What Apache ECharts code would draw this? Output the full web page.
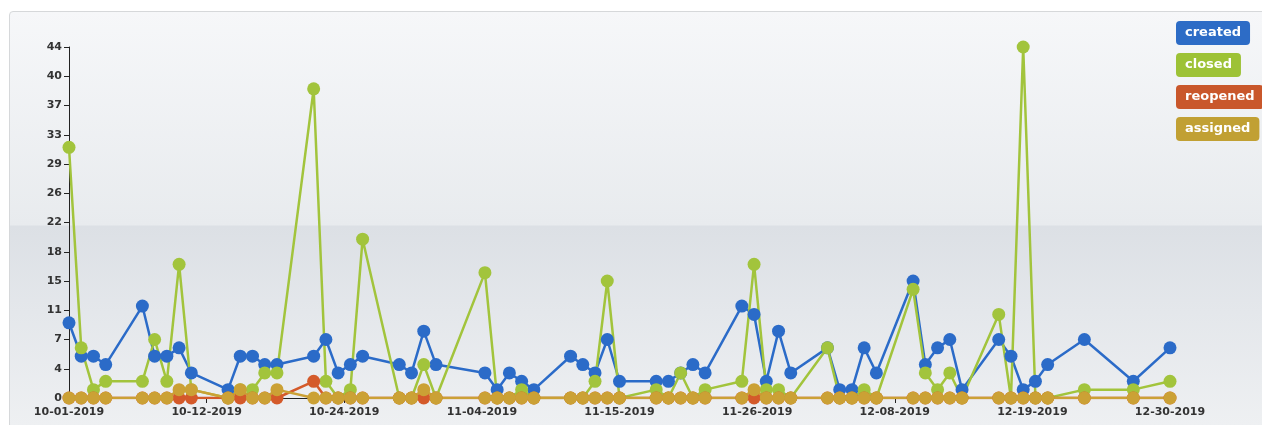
<!DOCTYPE html>
<html lang="en">
<head>
    <meta charset="UTF-8">
    <title>issues per day</title>
    <script src="https://cdn.jsdelivr.net/npm/echarts@6/dist/echarts.min.js"></script>
    <style>
        html, body { margin: 0; padding: 0; background: #fff; }
        #wrap { position: relative; width: 1262px; height: 425px; overflow: hidden; }
        /* grey glossy panel behind the chart */
        #panel {
            position: absolute; left: 9px; top: 11px; width: 1270px; height: 430px;
            border: 1px solid #d6d8da; border-radius: 4px;
            background: linear-gradient(to bottom, #f6f7f9 0px, #e8ebee 213px, #dce0e5 214px, #e4e7eb 300px, #eef0f2 414px);
        }
        #main { position: absolute; left: 0; top: 0; width: 1262px; height: 425px; }
    </style>
</head>
<body>
<div id="wrap">
    <div id="panel"></div>
    <div id="main"></div>
</div>

<script type="text/javascript">

    // working days shown in the chart
    var dates = [
        '10-01-2019','10-02-2019','10-03-2019','10-04-2019',
        '10-07-2019','10-08-2019','10-09-2019','10-10-2019','10-11-2019',
        '10-14-2019','10-15-2019','10-16-2019','10-17-2019','10-18-2019',
        '10-21-2019','10-22-2019','10-23-2019','10-24-2019','10-25-2019',
        '10-28-2019','10-29-2019','10-30-2019','10-31-2019',
        '11-04-2019','11-05-2019','11-06-2019','11-07-2019','11-08-2019',
        '11-11-2019','11-12-2019','11-13-2019','11-14-2019','11-15-2019',
        '11-18-2019','11-19-2019','11-20-2019','11-21-2019','11-22-2019',
        '11-25-2019','11-26-2019','11-27-2019','11-28-2019','11-29-2019',
        '12-02-2019','12-03-2019','12-04-2019','12-05-2019','12-06-2019',
        '12-09-2019','12-10-2019','12-11-2019','12-12-2019','12-13-2019',
        '12-16-2019','12-17-2019','12-18-2019','12-19-2019','12-20-2019',
        '12-23-2019','12-27-2019','12-30-2019'
    ];

    var createdCounts = [
        9, 5, 5, 4,
        11, 5, 5, 6, 3,
        1, 5, 5, 4, 4,
        5, 7, 3, 4, 5,
        4, 3, 8, 4,
        3, 1, 3, 2, 1,
        5, 4, 3, 7, 2,
        2, 2, 3, 4, 3,
        11, 10, 2, 8, 3,
        6, 1, 1, 6, 3,
        14, 4, 6, 7, 1,
        7, 5, 1, 2, 4,
        7, 2, 6
    ];

    var closedCounts = [
        30, 6, 1, 2,
        2, 7, 2, 16, 1,
        0, 1, 1, 3, 3,
        37, 2, 0, 1, 19,
        0, 0, 4, 0,
        15, 0, 0, 1, 0,
        0, 0, 2, 14, 0,
        1, 0, 3, 0, 1,
        2, 16, 1, 1, 0,
        6, 0, 0, 1, 0,
        13, 3, 1, 3, 0,
        10, 0, 42, 0, 0,
        1, 1, 2
    ];

    var reopenedCounts = [
        0, 0, 0, 0,
        0, 0, 0, 0, 0,
        0, 0, 0, 0, 0,
        2, 0, 0, 0, 0,
        0, 0, 0, 0,
        0, 0, 0, 0, 0,
        0, 0, 0, 0, 0,
        0, 0, 0, 0, 0,
        0, 0, 0, 0, 0,
        0, 0, 0, 0, 0,
        0, 0, 0, 0, 0,
        0, 0, 0, 0, 0,
        0, 0, 0
    ];

    var assignedCounts = [
        0, 0, 0, 0,
        0, 0, 0, 1, 1,
        0, 1, 0, 0, 1,
        0, 0, 0, 0, 0,
        0, 0, 1, 0,
        0, 0, 0, 0, 0,
        0, 0, 0, 0, 0,
        0, 0, 0, 0, 0,
        0, 1, 0, 0, 0,
        0, 0, 0, 0, 0,
        0, 0, 0, 0, 0,
        0, 0, 0, 0, 0,
        0, 0, 0
    ];

    var xTickLabels = ['10-01-2019','10-12-2019','10-24-2019','11-04-2019','11-15-2019','11-26-2019','12-08-2019','12-19-2019','12-30-2019'];
    var yTickLabels = ['0','4','7','11','15','18','22','26','29','33','37','40','44'];

    var seriesNames = ['created', 'closed', 'reopened', 'assigned'];
    var lineColors = ['#2b6bc8', '#a2c43c', '#d45a2a', '#cba135'];
    var badgeColors = ['#2d6cc6', '#9dc236', '#c9572b', '#c1a033'];

    // day offset from the first date
    function dayIndex(s) {
        var p = s.split('-');
        return (Date.UTC(+p[2], +p[0] - 1, +p[1]) - Date.UTC(2019, 9, 1)) / 86400000;
    }

    function pairs(values) {
        return values.map(function (v, i) { return [dayIndex(dates[i]), v]; });
    }

    var lastDay = dayIndex(dates[dates.length - 1]);
    var xStep = lastDay / (xTickLabels.length - 1);
    var yMax = 42;
    var yStep = yMax / (yTickLabels.length - 1);

    var myChart = echarts.init(document.getElementById('main'));

    var allValues = [createdCounts, closedCounts, reopenedCounts, assignedCounts];
    var series = seriesNames.map(function (name, i) {
        return {
            name: name,
            type: 'line',
            data: pairs(allValues[i]),
            symbol: 'circle',
            symbolSize: 13,
            showAllSymbol: true,
            lineStyle: { width: 2.5, color: lineColors[i] },
            itemStyle: { color: lineColors[i] },
            emphasis: { disabled: true }
        };
    });

    var option = {
        animation: false,
        textStyle: { fontFamily: 'DejaVu Sans' },
        grid: { left: 69, right: 92, top: 47, bottom: 27 },
        legend: {
            orient: 'vertical',
            left: 1165,
            top: 16,
            itemWidth: 0,
            itemHeight: 0,
            itemGap: 8,
            selectedMode: false,
            textStyle: {
                color: '#fff',
                fontWeight: 'bold',
                fontSize: 13,
                lineHeight: 16,
                padding: [4, 9],
                borderRadius: 4
            },
            data: seriesNames.map(function (name, i) {
                return { name: name, textStyle: { backgroundColor: badgeColors[i] } };
            })
        },
        xAxis: {
            type: 'value',
            min: 0,
            max: lastDay,
            interval: xStep,
            axisLine: { lineStyle: { color: '#222', width: 1 } },
            axisTick: { show: true, length: 5, lineStyle: { color: '#222' } },
            splitLine: { show: false },
            axisLabel: {
                color: '#333',
                fontSize: 11,
                fontWeight: 'bold',
                margin: 9,
                formatter: function (v) { return xTickLabels[Math.round(v / xStep)]; }
            }
        },
        yAxis: {
            type: 'value',
            min: 0,
            max: yMax,
            interval: yStep,
            axisLine: { show: true, lineStyle: { color: '#222', width: 1 } },
            axisTick: { show: true, length: 5, lineStyle: { color: '#222' } },
            splitLine: { show: false },
            axisLabel: {
                color: '#333',
                fontSize: 11,
                fontWeight: 'bold',
                margin: 7,
                formatter: function (v) { return yTickLabels[Math.round(v / yStep)]; }
            }
        },
        series: series
    };

    myChart.setOption(option);

</script>
</body>
</html>
